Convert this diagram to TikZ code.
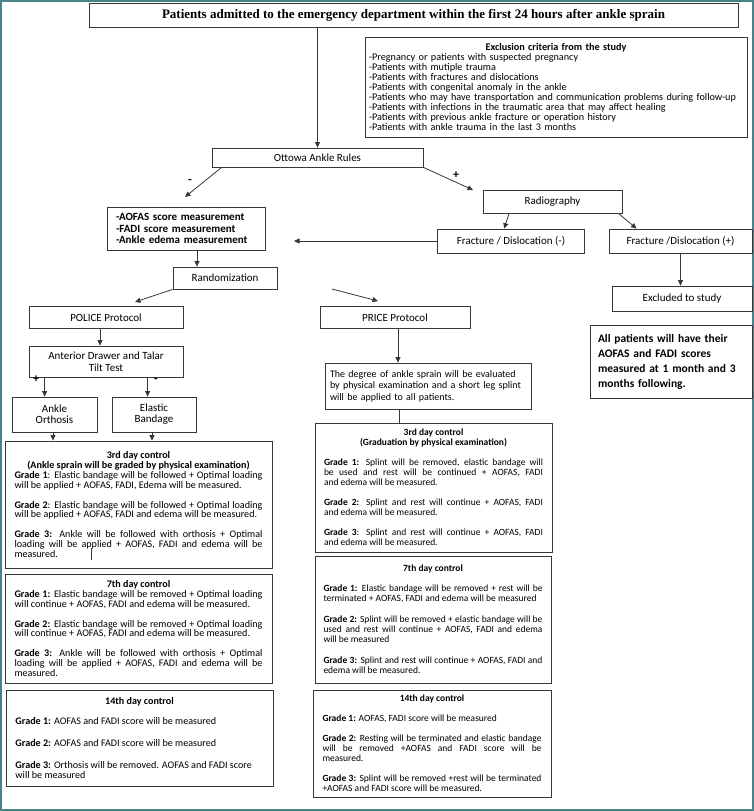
\documentclass[tikz,border=0pt]{standalone}
\usepackage{fontspec}
\setmainfont{Carlito}
\newfontfamily\titlefont{Liberation Serif}
\usetikzlibrary{arrows.meta,calc}
\definecolor{framec}{RGB}{70,132,136}
\definecolor{linec}{RGB}{55,55,55}
\newcommand{\pgap}[1][10pt]{\par\vspace{#1}}
\begin{document}
\begin{tikzpicture}[x=1pt,y=-1pt,
  bx/.style={draw=linec, line width=0.8pt, inner sep=0pt, align=center, font=\fontsize{11}{11}\selectfont},
  lpara/.style={bx, align=justify, text width=248, font=\fontsize{10.1}{9.9}\selectfont},
  rpara/.style={bx, align=justify, text width=219, font=\fontsize{9.5}{10}\selectfont},
  arr/.style={draw=linec, line width=0.8pt, -{Triangle[length=5.5pt,width=5pt]}},
  plain/.style={draw=linec, line width=0.8pt},
  lbl/.style={font=\fontsize{12}{12}\selectfont\bfseries, inner sep=0pt}]
\useasboundingbox (0,0) rectangle (754,811);
\fill[white] (0,0) rectangle (754,811);
\draw[framec, line width=2pt] (1,1) rectangle (753,810);

% ---------- nodes ----------
\node[bx, minimum width=649, minimum height=24, font=\titlefont\fontsize{13}{14}\selectfont\bfseries] (title) at (413.5,15)
  {Patients admitted to the emergency department within the first 24 hours after ankle sprain};

\node[bx, minimum width=382, minimum height=100, text width=374, align=left, font=\fontsize{10.2}{10}\selectfont] (excl) at (556,87)
  {{\centering\bfseries Exclusion criteria from the study\par}
   -Pregnancy or patients with suspected pregnancy\\
   -Patients with mutiple trauma\\
   -Patients with fractures and dislocations\\
   -Patients with congenital anomaly in the ankle\\
   -Patients who may have transportation and communication problems during follow-up\\
   -Patients with infections in the traumatic area that may affect healing\\
   -Patients with previous ankle fracture or operation history\\
   -Patients with ankle trauma in the last 3 months};

\node[bx, minimum width=211, minimum height=19] (ott) at (317.5,157.5) {Ottowa Ankle Rules};

\node[bx, minimum width=158, minimum height=43, text width=140, align=left, font=\bfseries\fontsize{11}{11.3}\selectfont] (aof) at (186,228.5)
  {-AOFAS score measurement\\-FADI score measurement\\-Ankle edema measurement};

\node[bx, minimum width=139, minimum height=23] (rad) at (552.5,201.5) {Radiography};
\node[bx, minimum width=147, minimum height=24] (fneg) at (511,241) {Fracture / Dislocation (-)};
\node[bx, minimum width=143, minimum height=24] (fpos) at (680.5,241) {Fracture /Dislocation (+)};
\node[bx, minimum width=140, minimum height=25] (exc) at (682,298.5) {Excluded to study};

\node[bx, minimum width=162, minimum height=73, text width=146, align=left, font=\bfseries\fontsize{11.5}{15}\selectfont] (allp) at (671,361.5)
  {All patients will have their\\AOFAS and FADI scores\\measured at 1 month and 3\\months following.};

\node[bx, minimum width=104, minimum height=22] (rnd) at (225,278) {Randomization};
\node[bx, minimum width=154, minimum height=22] (pol) at (106,317.5) {POLICE Protocol};
\node[bx, minimum width=150, minimum height=22] (pri) at (395,317.5) {PRICE Protocol};
\node[bx, minimum width=154, minimum height=31, font=\fontsize{11}{11.5}\selectfont] (ant) at (106,361.5) {Anterior Drawer and Talar\\Tilt Test};
\node[bx, minimum width=85, minimum height=35, font=\fontsize{11}{11}\selectfont] (orth) at (54.5,414.5) {Ankle\\Orthosis};
\node[bx, minimum width=84, minimum height=35, font=\fontsize{11}{11}\selectfont] (ela) at (154,414.5) {Elastic\\Bandage};

\node[lpara, minimum width=267, minimum height=127] (l3) at (138.5,504.5)
  {{\centering\bfseries 3rd day control\\(Ankle sprain will be graded by physical examination)\par}
   \textbf{Grade 1}: Elastic bandage will be followed + Optimal loading\linebreak will be applied + AOFAS, FADI, Edema will be measured.\pgap
   \textbf{Grade 2}: Elastic bandage will be followed + Optimal loading\linebreak will be applied + AOFAS, FADI and edema will be measured.\pgap
   \textbf{Grade 3:} Ankle will be followed with orthosis + Optimal\linebreak loading will be applied + AOFAS, FADI and edema will be\linebreak measured.};

\node[lpara, minimum width=267, minimum height=109] (l7) at (138.5,628.5)
  {{\centering\bfseries 7th day control\par}
   \textbf{Grade 1:} Elastic bandage will be removed + Optimal loading\linebreak will continue + AOFAS, FADI and edema will be measured.\pgap
   \textbf{Grade 2:} Elastic bandage will be removed + Optimal loading\linebreak will continue + AOFAS, FADI and edema will be measured.\pgap
   \textbf{Grade 3:} Ankle will be followed with orthosis + Optimal\linebreak loading will be applied + AOFAS, FADI and edema will be\linebreak measured.};

\node[lpara, minimum width=267, minimum height=96] (l14) at (139.5,738)
  {{\centering\bfseries 14th day control\par}\vspace{10pt}
   \textbf{Grade 1:} AOFAS and FADI score will be measured\pgap[12pt]
   \textbf{Grade 2:} AOFAS and FADI score will be measured\pgap[12pt]
   \textbf{Grade 3:} Orthosis will be removed. AOFAS and FADI score\newline will be measured};

\node[bx, minimum width=206, minimum height=46, text width=196, align=left, font=\fontsize{10}{11.5}\selectfont] (deg) at (428,386)
  {The degree of ankle sprain will be evaluated\\by physical examination and a short leg splint\\will be applied to all patients.};

\node[rpara, minimum width=237, minimum height=129] (r3) at (433.5,487.5)
  {{\centering\bfseries 3rd day control\\(Graduation by physical examination)\par}\vspace{10pt}
   \textbf{Grade 1:} Splint will be removed, elastic bandage will\linebreak be used and rest will be continued + AOFAS, FADI\linebreak and edema will be measured.\pgap
   \textbf{Grade 2:} Splint and rest will continue + AOFAS, FADI\linebreak and edema will be measured.\pgap
   \textbf{Grade 3}: Splint and rest will continue + AOFAS, FADI\linebreak and edema will be measured.};

\node[rpara, minimum width=236, minimum height=127] (r7) at (433,619.5)
  {{\centering\bfseries 7th day control\par}\vspace{10pt}
   \textbf{Grade 1:} Elastic bandage will be removed + rest will be\linebreak terminated + AOFAS, FADI and edema will be measured\pgap[11pt]
   \textbf{Grade 2:} Splint will be removed + elastic bandage will be\linebreak used and rest will continue + AOFAS, FADI and edema\linebreak will be measured\pgap[11pt]
   \textbf{Grade 3:} Splint and rest will continue + AOFAS, FADI and\linebreak edema will be measured.};

\node[rpara, minimum width=238, minimum height=107] (r14) at (432,743.5)
  {{\centering\bfseries 14th day control\par}\vspace{10pt}
   \textbf{Grade 1:} AOFAS, FADI score will be measured\pgap
   \textbf{Grade 2:} Resting will be terminated and elastic bandage\linebreak will be removed +AOFAS and FADI score will be\linebreak measured.\pgap
   \textbf{Grade 3:} Splint will be removed +rest will be terminated\linebreak +AOFAS and FADI score will be measured.};

% ---------- free ends and anchor points ----------
\coordinate (tneg) at (185,197);
\coordinate (tpos) at (473,190);
\coordinate (tleft) at (294,241);
\coordinate (tpol) at (135,302);
\coordinate (spri) at (332,289);
\coordinate (tpri) at (378,301);
\coordinate (sott) at ($(ott.south west)+(10,0)$);
\coordinate (srad1) at ($(rad.south west)+(26.5,0)$);
\coordinate (erad1) at ($(fneg.north west)+(67,0)$);
\coordinate (srad2) at ($(rad.south east)+(-4,0)$);
\coordinate (erad2) at ($(fpos.north west)+(28,0)$);
\coordinate (saof) at ($(aof.south)+(11,0)$);
\coordinate (spol) at ($(pol.south)+(-6,0)$);
\coordinate (sant1) at ($(ant.south west)+(16,0)$);
\coordinate (sant2) at ($(ant.south west)+(119,0)$);
\coordinate (sorth) at ($(orth.south)+(-1.5,0)$);
\coordinate (sela) at ($(ela.south)+(-2,0)$);
\coordinate (spric) at ($(pri.south)+(3,0)$);
\coordinate (sdeg) at ($(deg.south)+(-29,0)$);

% ---------- connectors ----------
\draw[arr] (ott.north |- title.south) -- (ott.north);
\draw[arr] (sott) -- (tneg);
\draw[arr] (ott.south east) -- (tpos);
\draw[arr] (srad1) -- (erad1);
\draw[arr] (srad2) -- (erad2);
\draw[arr] (fneg.west) -- (tleft);
\draw[arr] (fpos.south) -- (fpos.south |- exc.north);
\draw[arr] (saof) -- (saof |- rnd.north);
\draw[arr] (rnd.south west) -- (tpol);
\draw[arr] (spri) -- (tpri);
\draw[arr] (spol) -- (spol |- ant.north);
\draw[arr] (sant1) -- (sant1 |- orth.north);
\draw[arr] (sant2) -- (sant2 |- ela.north);
\draw[arr] (sorth) -- (sorth |- l3.north);
\draw[arr] (sela) -- (sela |- l3.north);
\draw[arr] (spric) -- (spric |- deg.north);
\draw[plain] (sdeg) -- (sdeg |- r3.north);

% ---------- labels ----------
\node[lbl] (mneg) at (190,181) {-};
\node[lbl] (ppos) at (456,175) {+};
\node[lbl] (pant) at (36,379) {+};
\node[lbl] (mant) at (156,380) {-};

% stray mark
\draw[plain] (91,548) -- (91,560);
\end{tikzpicture}
\end{document}
